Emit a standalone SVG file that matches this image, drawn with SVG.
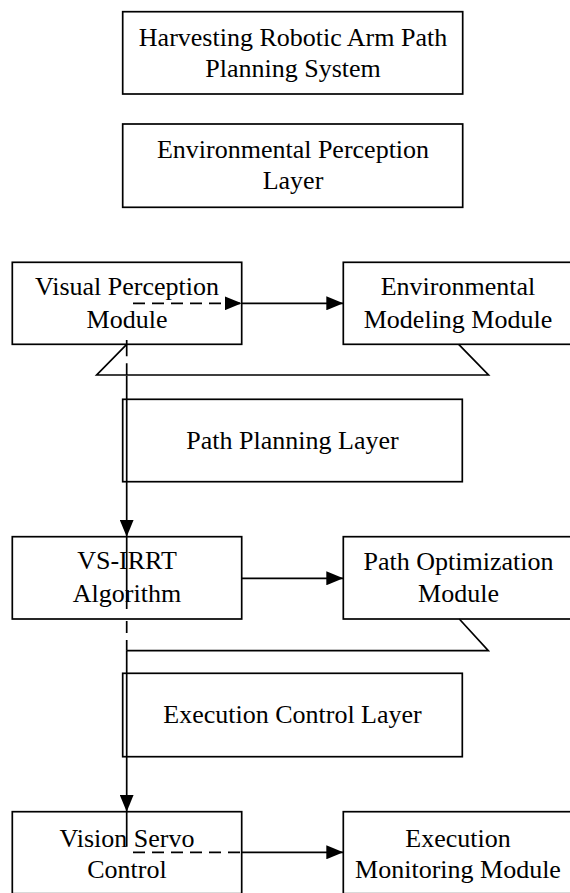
<svg xmlns="http://www.w3.org/2000/svg" width="570" height="893" viewBox="0 0 570 893">
<style>
.box{fill:#fff;stroke:#000;stroke-width:1.7}
.t{font-family:"Liberation Serif","Times New Roman",serif;font-size:26px;fill:#000;text-anchor:middle}
.ln{fill:none;stroke:#000;stroke-width:1.7}
.dash{stroke-dasharray:12 7}
</style>
<defs>
<marker id="ah" markerUnits="userSpaceOnUse" markerWidth="18" markerHeight="14" refX="17" refY="7" orient="auto">
<path d="M0,0 L17,7 L0,14 Z" fill="#000"/>
</marker>
</defs>
<rect width="570" height="893" fill="#fff"/>
<g id="title"><rect class="box" x="122.7" y="11.7" width="340" height="82.3"/>
<text class="t" x="293" y="46">Harvesting Robotic Arm Path</text>
<text class="t" x="293" y="77">Planning System</text></g>
<g id="envLayer"><rect class="box" x="122.7" y="124" width="340" height="83.3"/>
<text class="t" x="293" y="158">Environmental Perception</text>
<text class="t" x="293" y="189">Layer</text></g>
<g id="pathLayer"><rect class="box" x="122.7" y="399.3" width="339.6" height="82.4"/>
<text class="t" x="292.5" y="449.3">Path Planning Layer</text></g>
<g id="execLayer"><rect class="box" x="122.7" y="673.3" width="339.6" height="83.4"/>
<text class="t" x="292.5" y="723.3">Execution Control Layer</text></g>
<g id="visual"><rect class="box" x="12.3" y="262.3" width="229.4" height="82"/>
<text class="t" x="127" y="295">Visual Perception</text>
<text class="t" x="127" y="328">Module</text></g>
<g id="envModel"><rect class="box" x="343.3" y="262.3" width="229.4" height="82"/>
<text class="t" x="458" y="295">Environmental</text>
<text class="t" x="458" y="328">Modeling Module</text></g>
<g id="vsirrt"><rect class="box" x="12.3" y="536.7" width="229.4" height="82.3"/>
<text class="t" x="127" y="569">VS-IRRT</text>
<text class="t" x="127" y="601.7">Algorithm</text></g>
<g id="pathOpt"><rect class="box" x="343.3" y="536.7" width="229.4" height="82.3"/>
<text class="t" x="458.5" y="570">Path Optimization</text>
<text class="t" x="458.5" y="602">Module</text></g>
<g id="servo"><rect class="box" x="12.3" y="811.7" width="229.4" height="82"/>
<text class="t" x="127" y="846.5">Vision Servo</text>
<text class="t" x="127" y="878">Control</text></g>
<g id="monitor"><rect class="box" x="343.3" y="811.7" width="229.4" height="82"/>
<text class="t" x="458" y="846.5">Execution</text>
<text class="t" x="458" y="878">Monitoring Module</text></g>
<g id="connectors">
<polyline class="ln" points="126.7,344.3 96.7,375 488.5,375 458.7,344.3"/>
<polyline class="ln" points="126.7,650.7 488.3,650.7 459.3,619"/>
<line class="ln dash" x1="133" y1="303.3" x2="241.7" y2="303.3" marker-end="url(#ah)"/>
<line class="ln" x1="241.7" y1="303.3" x2="343.3" y2="303.3" marker-end="url(#ah)"/>
<line class="ln" x1="126.7" y1="340" x2="126.7" y2="344.3"/>
<line class="ln dash" x1="126.7" y1="344.3" x2="126.7" y2="376"/>
<line class="ln" x1="126.7" y1="376" x2="126.7" y2="536.7" marker-end="url(#ah)"/>
<line class="ln" x1="126.7" y1="536.7" x2="126.7" y2="609"/>
<line class="ln dash" x1="126.7" y1="621" x2="126.7" y2="650.7"/>
<line class="ln" x1="241.7" y1="578.3" x2="343.3" y2="578.3" marker-end="url(#ah)"/>
<line class="ln" x1="126.7" y1="650.7" x2="126.7" y2="811.7" marker-end="url(#ah)"/>
<line class="ln" x1="126.7" y1="811.7" x2="126.7" y2="846.7"/>
<line class="ln dash" x1="133" y1="852.3" x2="241.7" y2="852.3"/>
<line class="ln" x1="241.7" y1="852.3" x2="343.3" y2="852.3" marker-end="url(#ah)"/>
</g>
</svg>
